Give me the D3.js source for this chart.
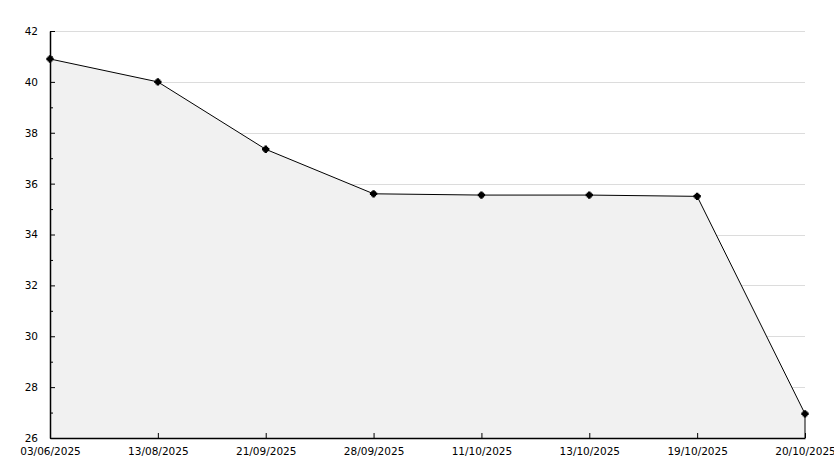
<!DOCTYPE html>
<html>
<head>
<meta charset="utf-8">
<script src="https://cdn.jsdelivr.net/npm/d3@7"></script>
<style>
  body { margin: 0; background: #fff; }
  text { font-family: "DejaVu Sans", sans-serif; font-size: 10.5px; fill: #000; }
</style>
</head>
<body>
<div id="chart"></div>
<script>

var dates = ["03/06/2025", "13/08/2025", "21/09/2025", "28/09/2025",
             "11/10/2025", "13/10/2025", "19/10/2025", "20/10/2025"];
var values = [40.9, 40.0, 37.35, 35.6, 35.55, 35.55, 35.5, 26.95];
var yTicks = [26, 28, 30, 32, 34, 36, 38, 40, 42];

var margin = { left: 50, right: 29, top: 31, bottom: 30 };
var width = 834 - margin.left - margin.right;
var height = 468 - margin.top - margin.bottom;

var svg = d3.select("#chart")
    .append("svg")
    .attr("width", 834)
    .attr("height", 468)
    .append("g")
    .attr("transform", "translate(" + margin.left + "," + margin.top + ")");

var xScale = d3.scalePoint()
    .domain(dates)
    .range([0, width]);

var yScale = d3.scaleLinear()
    .domain([26, 42])
    .range([height, 0]);

var data = dates.map(function (d, i) { return { date: d, value: values[i] }; });

// grid lines
svg.selectAll(".grid")
    .data(yTicks.filter(function (t) { return t > 26; }))
    .enter()
    .append("line")
    .attr("class", "grid")
    .attr("x1", 0)
    .attr("x2", width)
    .attr("y1", function (d) { return Math.round(yScale(d)) + 0.5; })
    .attr("y2", function (d) { return Math.round(yScale(d)) + 0.5; })
    .attr("stroke", "#dcdcdc")
    .attr("stroke-width", 1);

// area under the line
var area = d3.area()
    .x(function (d) { return xScale(d.date); })
    .y0(height)
    .y1(function (d) { return yScale(d.value); });

svg.append("path")
    .datum(data)
    .attr("d", area)
    .attr("fill", "#f1f1f1");

var line = d3.line()
    .x(function (d) { return xScale(d.date); })
    .y(function (d) { return yScale(d.value); });

svg.append("path")
    .datum(data)
    .attr("d", line)
    .attr("fill", "none")
    .attr("stroke", "#000")
    .attr("stroke-width", 1);

// right edge of the filled area
svg.append("line")
    .attr("x1", xScale(dates[dates.length - 1]))
    .attr("x2", xScale(dates[dates.length - 1]))
    .attr("y1", yScale(values[values.length - 1]))
    .attr("y2", height)
    .attr("stroke", "#000");

// y axis (ticks pointing inward, minor ticks on odd values)
var yAxis = d3.axisLeft(yScale).tickValues(yTicks).tickSizeInner(-5).tickSizeOuter(0).tickPadding(12);
var gy = svg.append("g").call(yAxis);
gy.select(".domain").attr("stroke", "#000").attr("stroke-width", 1.5);

var yMinor = d3.axisLeft(yScale).tickValues(d3.range(27, 42, 2)).tickSize(-3).tickFormat("");
svg.append("g").call(yMinor).select(".domain").remove();

// x axis
var xAxis = d3.axisBottom(xScale).tickSizeInner(-5).tickSizeOuter(0).tickPadding(10);
var gx = svg.append("g")
    .attr("transform", "translate(0," + height + ")")
    .call(xAxis);
gx.select(".domain").attr("stroke", "#000").attr("stroke-width", 1.5);

svg.selectAll(".tick text").style("font-family", "DejaVu Sans, sans-serif").style("font-size", "10.5px");

// markers
svg.selectAll(".pt")
    .data(data)
    .enter()
    .append("path")
    .attr("class", "pt")
    .attr("transform", function (d) { return "translate(" + xScale(d.date) + "," + yScale(d.value) + ")"; })
    .attr("d", d3.symbol().type(d3.symbolCross).size(30))
    .attr("fill", "#000");

svg.selectAll(".pt2")
    .data(data)
    .enter()
    .append("rect")
    .attr("x", function (d) { return xScale(d.date) - 2.5; })
    .attr("y", function (d) { return yScale(d.value) - 2.5; })
    .attr("width", 5)
    .attr("height", 5)
    .attr("fill", "#000");

</script>
</body>
</html>
